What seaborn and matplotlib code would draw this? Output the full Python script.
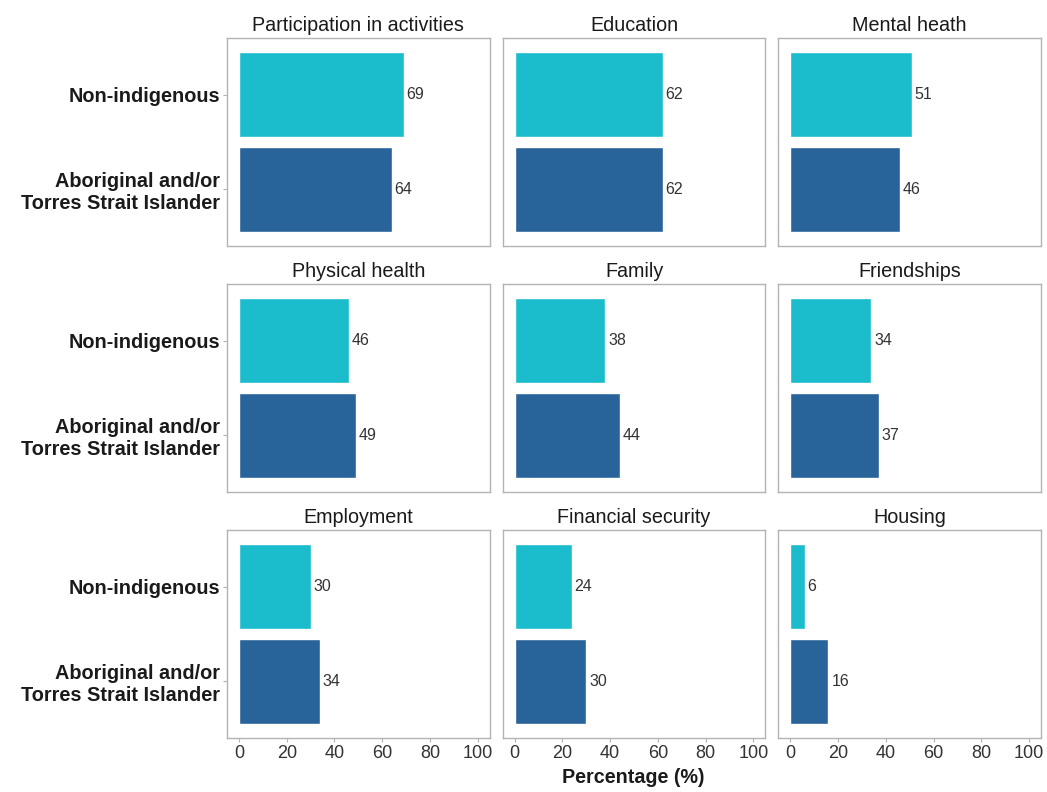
import pandas as pd
import numpy as np
import matplotlib
matplotlib.use("Agg")
import matplotlib.pyplot as plt
import seaborn as sns

# data
domains = ["Participation in activities", "Education", "Mental heath",
           "Physical health", "Family", "Friendships",
           "Employment", "Financial security", "Housing"]
groups = ["Non-indigenous", "Aboriginal and/or\nTorres Strait Islander"]
non_indigenous = [69, 62, 51, 46, 38, 34, 30, 24, 6]
aboriginal = [64, 62, 46, 49, 44, 37, 34, 30, 16]
x_ticks = [0, 20, 40, 60, 80, 100]

colours = {groups[0]: "#1bbccc", groups[1]: "#28639a"}

rows = []
for d, a, b in zip(domains, non_indigenous, aboriginal):
    rows.append({"domain": d, "group": groups[0], "pct": a})
    rows.append({"domain": d, "group": groups[1], "pct": b})
df = pd.DataFrame(rows)

sns.set_theme(style="white")
plt.rcParams["font.family"] = ["Liberation Sans", "DejaVu Sans"]

fig, axes = plt.subplots(3, 3, figsize=(10.47, 7.92), dpi=100)
fig.subplots_adjust(left=0.2168, right=0.9943, top=0.952, bottom=0.0682,
                    wspace=0.0494, hspace=0.1827)

for i, (ax, d) in enumerate(zip(axes.flat, domains)):
    sub = df[df["domain"] == d]
    sns.barplot(data=sub, x="pct", y="group", hue="group", order=groups,
                hue_order=groups, palette=colours, width=0.9, legend=False,
                saturation=1, ax=ax)
    for c in ax.containers:
        ax.bar_label(c, fmt="%d", padding=2, fontsize=11.5, color="#333333")
    ax.set_xlim(-5, 105)
    ax.set_ylim(1.6, -0.6)
    ax.set_xticks(x_ticks)
    ax.set_title(d, fontsize=14.2, color="#1a1a1a", pad=5)
    ax.set_xlabel("")
    ax.set_ylabel("")
    for s in ax.spines.values():
        s.set_color("#b3b3b3")
        s.set_linewidth(1)
    ax.tick_params(axis="both", length=3, color="#b3b3b3", width=0.8,
                   left=True, bottom=True, pad=2)
    if i % 3 == 0:
        ax.set_yticks([0, 1])
        ax.set_yticklabels(groups, fontsize=14.3, fontweight="bold", color="#1a1a1a")
    else:
        ax.set_yticks([0, 1])
        ax.set_yticklabels([])
        ax.tick_params(axis="y", length=0)
    if i >= 6:
        ax.set_xticklabels([str(t) for t in x_ticks], fontsize=13, color="#333333")
    else:
        ax.set_xticklabels([])
        ax.tick_params(axis="x", length=0)

fig.text(0.605, 0.006, "Percentage (%)", ha="center", va="bottom",
         fontsize=14.2, fontweight="bold", color="#1a1a1a")

fig.savefig("out.png", dpi=100)
